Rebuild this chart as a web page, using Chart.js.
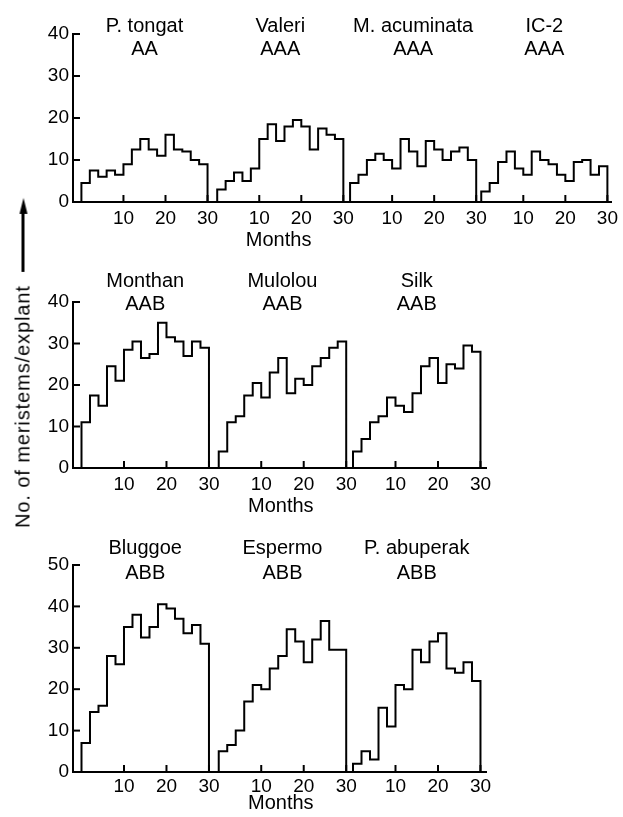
<!DOCTYPE html>
<html>
<head>
<meta charset="utf-8">
<script src="https://cdn.jsdelivr.net/npm/chart.js@4.4.0/dist/chart.umd.min.js"></script>
<style>
  body { margin: 0; background: #fff; width: 623px; height: 817px; overflow: hidden; position: relative; }
  canvas { position: absolute; left: 0; }
  #ylab {
    position: absolute; left: 23px; top: 363px;
    transform: translate(-50%, -50%) rotate(-90deg);
    display: flex; align-items: center; white-space: nowrap;
    font: 20px "Liberation Sans", Arial, sans-serif; letter-spacing: 0.9px; color: #000;
  }
  #ylab .shaft { width: 58px; height: 2.5px; background: #000; margin-left: 13px; }
  #ylab .head { width: 0; height: 0; border-left: 16px solid #000; border-top: 4px solid transparent; border-bottom: 4px solid transparent; }
</style>
</head>
<body>
<canvas id="row1"></canvas>
<canvas id="row2"></canvas>
<canvas id="row3"></canvas>
<div id="ylab"><span>No. of meristems/explant</span><span class="shaft"></span><span class="head"></span></div>
<script>
// each value is one 2-month bin, months 0-30
const binWidth = 2;
const xTickLabels = ['10', '20', '30'];
const yStep = 10;

const row1Names = ['P. tongat', 'Valeri', 'M. acuminata', 'IC-2'];
const row1Genomes = ['AA', 'AAA', 'AAA', 'AAA'];
const pTongat    = [4.5, 7.5, 6, 7.5, 6.5, 9, 12.5, 15, 12.5, 11, 16, 12.5, 12, 10, 9];
const valeri     = [3, 5, 7, 5, 8, 15, 18.5, 14.5, 18, 19.5, 18, 12.5, 17.5, 16, 15];
const mAcuminata = [4.5, 6.5, 10, 11.5, 10, 8, 15, 12, 8.5, 14.5, 12.5, 10, 12, 13, 10];
const ic2        = [2.5, 4.5, 9.5, 12, 8, 6.5, 12, 10, 9, 6.5, 5, 9.5, 10, 6.5, 8.5];

const row2Names = ['Monthan', 'Mulolou', 'Silk'];
const row2Genomes = ['AAB', 'AAB', 'AAB'];
const monthan = [11, 17.5, 15, 24.5, 21, 28.5, 30.5, 26.5, 27.5, 35, 31.5, 30.5, 27, 30.5, 29];
const mulolou = [4, 11, 12.5, 17.5, 20.5, 17, 23, 26.5, 18, 21.5, 20, 24.5, 26.5, 29, 30.5];
const silk    = [4, 7, 11, 12.5, 17, 15, 13.5, 18, 24.5, 26.5, 20.5, 25, 24, 29.5, 28];

const row3Names = ['Bluggoe', 'Espermo', 'P. abuperak'];
const row3Genomes = ['ABB', 'ABB', 'ABB'];
const bluggoe   = [7, 14.5, 16, 28, 26, 35, 38, 32.5, 35, 40.5, 39.5, 37, 33.5, 35.5, 31];
const espermo   = [5, 6.5, 10, 17, 21, 20, 25, 28, 34.5, 31.5, 26.5, 32, 36.5, 29.5, 29.5];
const pAbuperak = [2, 5, 3, 15.5, 11, 21, 20, 29.5, 26.5, 31.5, 33.5, 25, 24, 26.5, 22];

// where each panel's month 0 sits on the shared x axis (in months)
const panelOffsets = [0, 32.3, 63.9, 95.1];
const FONT = '"Liberation Sans", Arial, sans-serif';

function steps(values, off) {
  const pts = [{ x: off, y: 0 }];
  values.forEach((v, i) => pts.push({ x: off + i * binWidth, y: v }));
  pts.push({ x: off + values.length * binWidth, y: 0 });
  return pts;
}

const panelText = {
  id: 'panelText',
  afterDraw(chart, args, o) {
    const { ctx, chartArea: ca, scales: { x, y } } = chart;
    ctx.save();
    ctx.strokeStyle = '#000';
    ctx.fillStyle = '#000';
    ctx.lineWidth = 2;
    // inward tick marks
    x.ticks.forEach(t => {
      const px = x.getPixelForValue(t.value);
      ctx.beginPath(); ctx.moveTo(px, ca.bottom); ctx.lineTo(px, ca.bottom - 7); ctx.stroke();
    });
    y.ticks.forEach(t => {
      if (t.value === 0) return;
      const py = y.getPixelForValue(t.value);
      ctx.beginPath(); ctx.moveTo(ca.left, py); ctx.lineTo(ca.left + 7, py); ctx.stroke();
    });
    ctx.font = '20px ' + FONT;
    ctx.textAlign = 'center';
    ctx.textBaseline = 'middle';
    o.names.forEach((n, i) => {
      const px = x.getPixelForValue(panelOffsets[i] + 15);
      ctx.fillText(n, px, ca.top + o.titleDy[0]);
      ctx.fillText(o.genomes[i], px, ca.top + o.titleDy[1]);
    });
    ctx.fillText('Months', x.getPixelForValue(panelOffsets[1] + 14.6), ca.bottom + o.monthsDy);
    ctx.restore();
  }
};

function drawRow(id, top, height, padTop, padRight, yMax, xMax, names, genomes, series, titleDy, monthsDy, tickPad) {
  const cv = document.getElementById(id);
  cv.width = 623; cv.height = height;
  cv.style.top = top + 'px';
  const tickVals = [];
  series.forEach((s, i) => [10, 20, 30].forEach(t => tickVals.push(panelOffsets[i] + t)));
  new Chart(cv, {
    type: 'line',
    data: {
      datasets: series.map((vals, i) => ({
        data: steps(vals, panelOffsets[i]),
        stepped: true,
        borderColor: '#000',
        borderWidth: 2,
        pointRadius: 0,
        fill: false
      }))
    },
    options: {
      responsive: false,
      animation: false,
      layout: { padding: { top: padTop, right: padRight, left: 0, bottom: 0 } },
      plugins: {
        legend: { display: false },
        tooltip: { enabled: false },
        panelText: { names, genomes, titleDy, monthsDy }
      },
      scales: {
        x: {
          type: 'linear', min: -2, max: xMax,
          afterBuildTicks: s => { s.ticks = tickVals.map(v => ({ value: v })); },
          afterFit: s => { s.height = 48; },
          ticks: {
            autoSkip: false, maxRotation: 0, padding: tickPad, color: '#000',
            font: { family: FONT, size: 19 },
            callback: (v, i) => xTickLabels[i % 3]
          },
          grid: { display: true, drawOnChartArea: false, drawTicks: false },
          border: { display: true, color: '#000', width: 2 }
        },
        y: {
          min: 0, max: yMax,
          afterFit: s => { s.width = 73; },
          ticks: { stepSize: yStep, padding: 4, color: '#000', font: { family: FONT, size: 19 } },
          grid: { display: true, drawOnChartArea: false, drawTicks: false },
          border: { display: true, color: '#000', width: 2 }
        }
      }
    },
    plugins: [panelText]
  });
}

drawRow('row1', 0, 250, 34, 6, 40, 126, row1Names, row1Genomes,
  [pTongat, valeri, mAcuminata, ic2], [-8, 15], 38, 5);
drawRow('row2', 255, 261, 47, 137, 40, 95.2, row2Names, row2Genomes,
  [monthan, mulolou, silk], [-21, 2], 38, 5);
drawRow('row3', 525, 295, 40, 137, 50, 95.2, row3Names, row3Genomes,
  [bluggoe, espermo, pAbuperak], [-17, 8], 31.5, 3);
</script>
</body>
</html>
